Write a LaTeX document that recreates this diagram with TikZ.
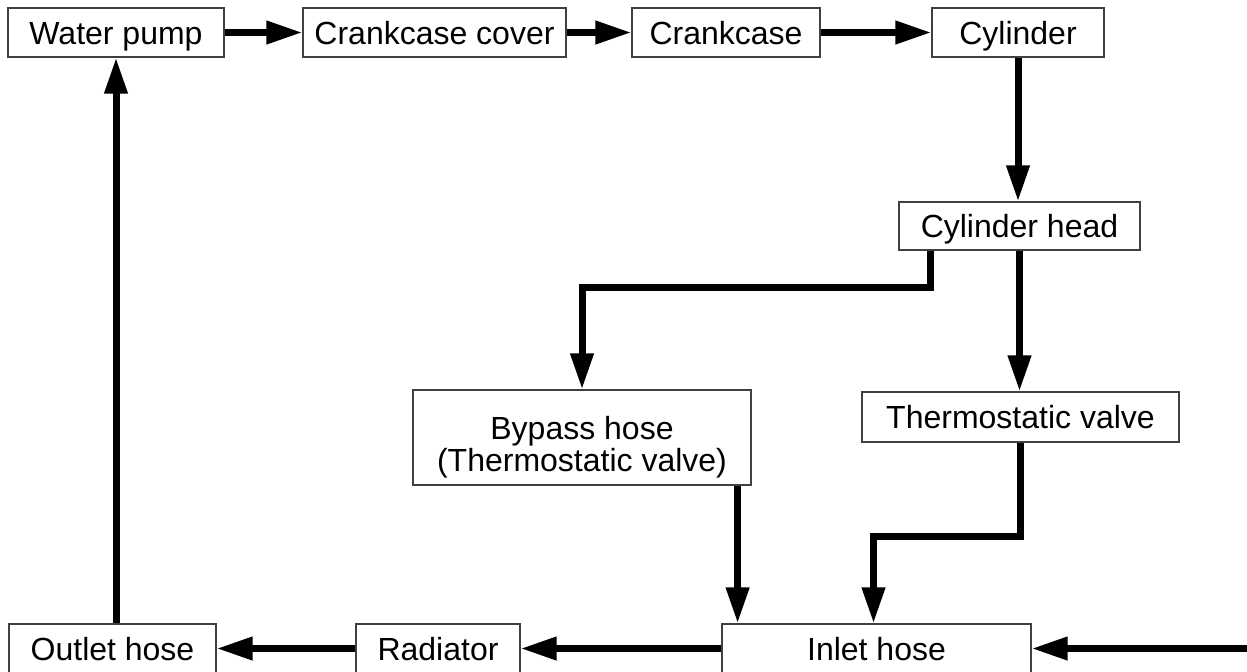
\documentclass[tikz,border=0pt]{standalone}
\usepackage{fontspec}
\setmainfont{Liberation Sans}
\usetikzlibrary{arrows.meta,calc}
\begin{document}
\begin{tikzpicture}[x=0.5pt,y=-0.5pt,
  box/.style={draw=black!75,line width=0.6pt,inner sep=0pt,align=center,
    font=\fontsize{16}{16}\selectfont,text height=11.5pt,text depth=0pt,minimum height=24.5pt},
  flow/.style={line width=3.5pt,line join=miter,-{Triangle[length=18pt,width=11pt]}}]
\clip (0,0) rectangle (1247,671);
% top row
\node[box,minimum width=108pt] (wp) at (116,32.5) {Water pump};
\node[box,minimum width=131.5pt] (cc) at (434.5,32.5) {Crankcase cover};
\node[box,minimum width=94pt] (ck) at (726,32.5) {Crankcase};
\node[box,minimum width=86pt] (cy) at (1018,32.5) {Cylinder};
% middle
\node[box,minimum width=120.5pt,minimum height=24pt] (ch) at (1019.5,226) {Cylinder head};
\node[box,minimum width=169pt,minimum height=47.5pt,text height=33.5pt,text depth=0pt] (bp) at (582,437.5) {Bypass hose\\(Thermostatic valve)};
\node[box,minimum width=158.5pt,minimum height=25pt] (tv) at (1020.5,417) {Thermostatic valve};
% bottom row
\node[box,minimum width=103.5pt] (oh) at (112.5,648.5) {Outlet hose};
\node[box,minimum width=82pt] (rd) at (438,648.5) {Radiator};
\node[box,minimum width=154.5pt] (ih) at (876.5,648.5) {Inlet hose};
\coordinate (in) at (1247,648.5);
% connectors
\draw[flow] (wp.east) -- (cc.west);
\draw[flow] (cc.east) -- (ck.west);
\draw[flow] (ck.east) -- (cy.west);
\draw[flow] (cy.south) -- (cy.south |- ch.north);
\draw[flow] ($(ch.south west)+(32,0)$) -- ++(0,37) -| (bp.north);
\draw[flow] (ch.south) -- (ch.south |- tv.north);
\draw[flow] (tv.south) -- ++(0,94) -| ($(ih.north)+(-3,0)$);
\draw[flow] ($(bp.south east)+(-14,0)$) coordinate (bpo) -- (bpo |- ih.north);
\draw[flow] (in) -- (ih.east);
\draw[flow] (ih.west) -- (rd.east);
\draw[flow] (rd.west) -- (oh.east);
\draw[flow] (wp.south |- oh.north) -- (wp.south);
\end{tikzpicture}
\end{document}
